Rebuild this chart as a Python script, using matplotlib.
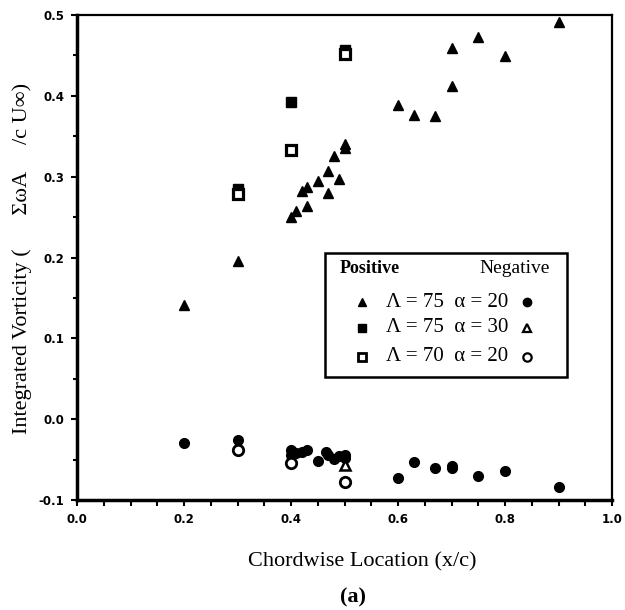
import matplotlib
matplotlib.use('Agg')
import matplotlib.pyplot as plt
from matplotlib.patches import Rectangle
from matplotlib.ticker import MultipleLocator

# positive vorticity
pos_75_20_x = [0.20, 0.30, 0.40, 0.41, 0.42, 0.43, 0.43, 0.45, 0.47, 0.47, 0.48, 0.49, 0.50, 0.50,
               0.60, 0.63, 0.67, 0.70, 0.70, 0.75, 0.80, 0.90]
pos_75_20_y = [0.141, 0.196, 0.250, 0.257, 0.282, 0.287, 0.264, 0.295, 0.307, 0.280, 0.326, 0.297,
               0.336, 0.341, 0.389, 0.376, 0.375, 0.412, 0.459, 0.473, 0.449, 0.491]
pos_75_30_x = [0.30, 0.40, 0.50]
pos_75_30_y = [0.285, 0.392, 0.457]
pos_70_20_x = [0.30, 0.40, 0.50]
pos_70_20_y = [0.278, 0.333, 0.452]

# negative vorticity
neg_75_20_x = [0.20, 0.30, 0.40, 0.40, 0.41, 0.42, 0.43, 0.45, 0.465, 0.47, 0.48, 0.49, 0.50, 0.50,
               0.60, 0.63, 0.67, 0.70, 0.70, 0.75, 0.80, 0.90]
neg_75_20_y = [-0.029, -0.026, -0.038, -0.044, -0.042, -0.040, -0.038, -0.052, -0.040, -0.044, -0.049,
               -0.046, -0.044, -0.048, -0.073, -0.053, -0.061, -0.058, -0.061, -0.070, -0.064, -0.084]
neg_75_30_x = [0.50]
neg_75_30_y = [-0.057]
neg_70_20_x = [0.30, 0.40, 0.50]
neg_70_20_y = [-0.038, -0.054, -0.078]

legend_rows = ['\u039b = 75  \u03b1 = 20', '\u039b = 75  \u03b1 = 30', '\u039b = 70  \u03b1 = 20']
xticks = [0.0, 0.2, 0.4, 0.6, 0.8, 1.0]
yticks = [-0.1, 0.0, 0.1, 0.2, 0.3, 0.4, 0.5]

SERIF = 'Liberation Serif'
TICKFONT = 'DejaVu Sans'

fig = plt.figure(figsize=(6.25, 6.1), dpi=100)
ax = fig.add_axes([0.1232, 0.1803, 0.8560, 0.7951])

ax.plot(pos_75_20_x, pos_75_20_y, '^', color='black', ms=7, ls='none')
ax.plot(pos_75_30_x, pos_75_30_y, 's', color='black', ms=6.5, ls='none')
ax.plot(pos_70_20_x, pos_70_20_y, 's', mfc='white', mec='black', mew=2.3, ms=6.5, ls='none')
ax.plot(neg_75_20_x, neg_75_20_y, 'o', color='black', ms=7, ls='none')
ax.plot(neg_75_30_x, neg_75_30_y, '^', mfc='white', mec='black', mew=1.8, ms=7, ls='none')
ax.plot(neg_70_20_x, neg_70_20_y, 'o', mfc='white', mec='black', mew=2, ms=7.5, ls='none')

ax.set_xlim(0, 1.0)
ax.set_ylim(-0.1, 0.5)
ax.xaxis.set_minor_locator(MultipleLocator(0.05))
ax.yaxis.set_minor_locator(MultipleLocator(0.05))
ax.tick_params(which='major', direction='out', length=4, width=1.5, pad=5)
ax.tick_params(which='minor', direction='out', length=3, width=1.5)
ax.tick_params(axis='x', which='minor', length=4)

ax.set_xticks(xticks)
ax.set_xticklabels(['%.1f' % v for v in xticks], family=TICKFONT, weight='bold', fontsize=8.5)
ax.set_yticks(yticks)
ax.set_yticklabels(['%.1f' % v for v in yticks], family=TICKFONT, weight='bold', fontsize=8.5)

for side in ['left', 'bottom']:
    ax.spines[side].set_linewidth(2.5)
for side in ['top', 'right']:
    ax.spines[side].set_linewidth(1.6)

fig.text(0.579, 0.0787, 'Chordwise Location (x/c)', family=SERIF, fontsize=16, ha='center', va='center')
fig.text(0.035, 0.576, 'Integrated Vorticity (      \u03a3\u03c9A     /c U\u221e)', family=SERIF,
         fontsize=16, rotation=90, ha='center', va='center')
fig.text(0.565, 0.021, '(a)', family=SERIF, fontsize=16, weight='bold', ha='center', va='center')

# legend box drawn by hand
lx0, ly0, lx1, ly1 = 0.4636, 0.2536, 0.916, 0.509
ax.add_patch(Rectangle((lx0, ly0), lx1 - lx0, ly1 - ly0, transform=ax.transAxes,
                       fill=False, ec='black', lw=1.8, zorder=5))
ax.text(lx0 + 0.028, 0.478, 'Positive', transform=ax.transAxes, family=SERIF, fontsize=13,
        weight='bold', va='center')
ax.text(lx1 - 0.032, 0.478, 'Negative', transform=ax.transAxes, family=SERIF, fontsize=14,
        ha='right', va='center')
row_y = [0.408, 0.355, 0.295]
left_styles = [dict(marker='^', color='black', ms=6),
               dict(marker='s', color='black', ms=6),
               dict(marker='s', mfc='white', mec='black', mew=2, ms=5.5)]
right_styles = [dict(marker='o', color='black', ms=6),
                dict(marker='^', mfc='white', mec='black', mew=1.6, ms=6),
                dict(marker='o', mfc='white', mec='black', mew=1.6, ms=6)]
for yy, txt, ls_, rs_ in zip(row_y, legend_rows, left_styles, right_styles):
    ax.plot([0.533], [yy], transform=ax.transAxes, ls='none', zorder=6, **ls_)
    ax.text(0.578, yy, txt, transform=ax.transAxes, family=SERIF, fontsize=15, va='center')
    ax.plot([0.841], [yy], transform=ax.transAxes, ls='none', zorder=6, **rs_)

fig.savefig('out.png', dpi=100)
